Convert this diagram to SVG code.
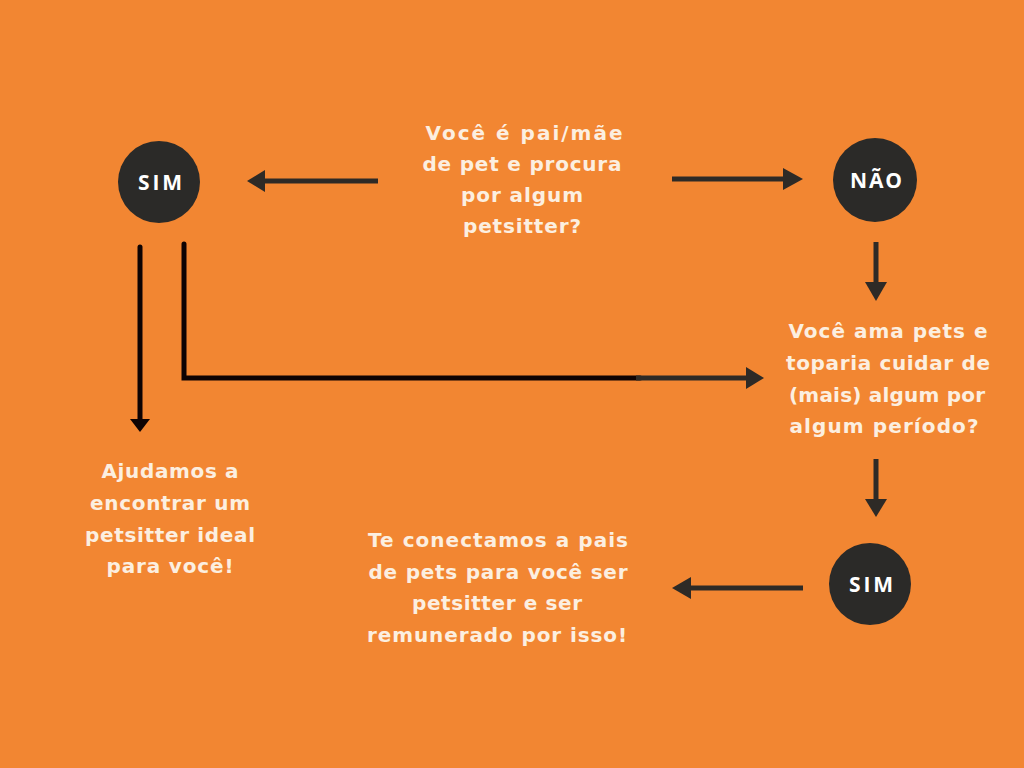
<svg xmlns="http://www.w3.org/2000/svg" width="1024" height="768" viewBox="0 0 1024 768">
<defs>
<style>
.bg{fill:#F28632}
.node circle{fill:#2B2A28}
.lbl{font-family:"Open Sans",Lato,"Liberation Sans",sans-serif;font-weight:700;font-size:21px;fill:#FFFFFF;text-anchor:middle}
.txt{font-family:"DejaVu Sans","Open Sans","Liberation Sans",sans-serif;font-weight:700;font-size:20px;fill:#FCEFE0;text-anchor:middle}
.ln{stroke:#2E2A26;stroke-width:5;fill:none}
.blk{stroke:#0E0303;stroke-width:5;fill:none;stroke-linecap:round}
.hd{fill:#2E2A26}
.hdb{fill:#0E0303}
</style>
</defs>
<rect class="bg" x="0" y="0" width="1024" height="768"/>
<g id="connectors">
<line class="ln" x1="378" y1="181" x2="262" y2="181"/>
<polygon class="hd" points="247,181 265,170 265,192"/>
<line class="ln" x1="672" y1="179" x2="786" y2="179"/>
<polygon class="hd" points="803,179 783,168 783,190"/>
<line class="ln" x1="876" y1="242" x2="876" y2="285"/>
<polygon class="hd" points="876,301 865,282 887,282"/>
<line class="ln" x1="876" y1="459" x2="876" y2="502"/>
<polygon class="hd" points="876,517 865,499 887,499"/>
<line class="ln" x1="803" y1="588" x2="688" y2="588"/>
<polygon class="hd" points="672,588 691,577 691,599"/>
<line class="blk" x1="140" y1="247" x2="140" y2="422"/>
<polygon class="hdb" points="140,432 130,419 150,419"/>
<polyline class="blk" points="184,244 184,378 640,378"/>
<line class="ln" x1="636" y1="378" x2="748" y2="378"/>
<polygon class="hd" points="764,378 746,367 746,389"/>
</g>
<g id="sim1" class="node">
<circle cx="159" cy="182" r="41"/>
<text class="lbl" x="160" y="190" textLength="44" lengthAdjust="spacing">SIM</text>
</g>
<g id="q1">
<text class="txt" x="524" y="140" textLength="197" lengthAdjust="spacing">Você é pai/mãe</text>
<text class="txt" x="522" y="171" textLength="199" lengthAdjust="spacing">de pet e procura</text>
<text class="txt" x="522" y="202" textLength="122" lengthAdjust="spacing">por algum</text>
<text class="txt" x="522" y="233" textLength="118" lengthAdjust="spacing">petsitter?</text>
</g>
<g id="nao" class="node">
<circle cx="875" cy="180" r="42"/>
<text class="lbl" x="876" y="188" textLength="52" lengthAdjust="spacing">NÃO</text>
</g>
<g id="q2">
<text class="txt" x="888" y="338" textLength="199" lengthAdjust="spacing">Você ama pets e</text>
<text class="txt" x="888" y="370" textLength="204" lengthAdjust="spacing">toparia cuidar de</text>
<text class="txt" x="887" y="402" textLength="196" lengthAdjust="spacing">(mais) algum por</text>
<text class="txt" x="884" y="433" textLength="189" lengthAdjust="spacing">algum período?</text>
</g>
<g id="sim2" class="node">
<circle cx="870" cy="584" r="41"/>
<text class="lbl" x="871" y="592" textLength="44" lengthAdjust="spacing">SIM</text>
</g>
<g id="r2">
<text class="txt" x="498" y="547" textLength="260" lengthAdjust="spacing">Te conectamos a pais</text>
<text class="txt" x="498" y="579" textLength="259" lengthAdjust="spacing">de pets para você ser</text>
<text class="txt" x="497" y="610" textLength="170" lengthAdjust="spacing">petsitter e ser</text>
<text class="txt" x="497" y="642" textLength="260" lengthAdjust="spacing">remunerado por isso!</text>
</g>
<g id="r1">
<text class="txt" x="170" y="478" textLength="137" lengthAdjust="spacing">Ajudamos a</text>
<text class="txt" x="170" y="510" textLength="160" lengthAdjust="spacing">encontrar um</text>
<text class="txt" x="170" y="542" textLength="170" lengthAdjust="spacing">petsitter ideal</text>
<text class="txt" x="170" y="573" textLength="127" lengthAdjust="spacing">para você!</text>
</g>
</svg>
